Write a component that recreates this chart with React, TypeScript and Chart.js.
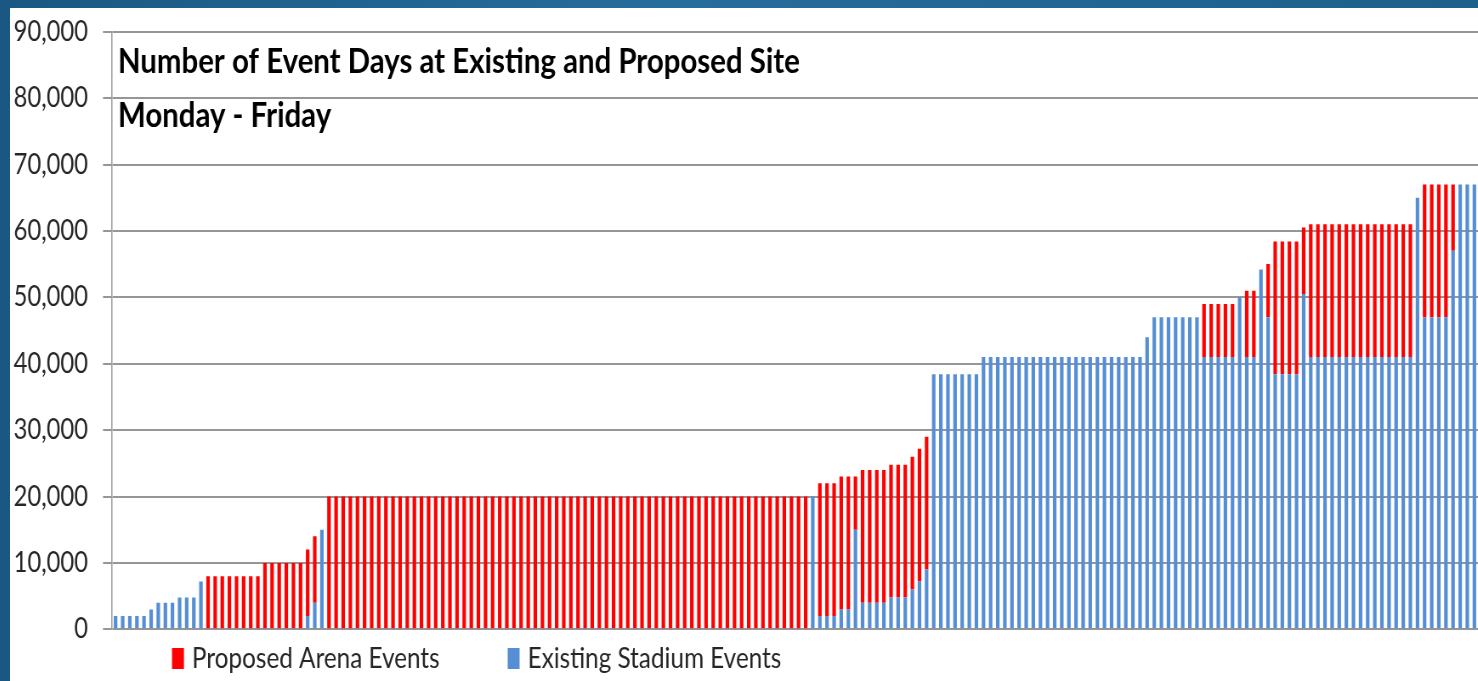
import React, { useEffect, useRef } from "react";
import { Chart, registerables } from "chart.js";

Chart.register(...registerables);

// ---- Data ----
const existingStadium: number[] = [
  2000, 2000, 2000, 2000, 2000, 3000, 4000, 4000, 4000, 4800, 4800, 4800, 7200,
  0, 0, 0, 0, 0, 0, 0, 0,
  0, 0, 0, 0, 0, 0,
  2000, 4000, 15000,
  0, 0, 0, 0, 0, 0, 0, 0, 0, 0, 0, 0, 0, 0, 0, 0, 0,
  0, 0, 0, 0, 0, 0, 0, 0, 0, 0, 0, 0, 0, 0, 0, 0, 0,
  0, 0, 0, 0, 0, 0, 0, 0, 0, 0, 0, 0, 0, 0, 0, 0, 0,
  0, 0, 0, 0, 0, 0, 0, 0, 0, 0, 0, 0, 0, 0, 0, 0, 0,
  20000,
  2000, 2000, 2000, 3000, 3000, 15000, 4000, 4000, 4000, 4000, 4800, 4800, 4800, 6000, 7200, 9000,
  38400, 38400, 38400, 38400, 38400, 38400, 38400,
  41000, 41000, 41000, 41000, 41000, 41000, 41000, 41000, 41000, 41000, 41000, 41000,
  41000, 41000, 41000, 41000, 41000, 41000, 41000, 41000, 41000, 41000, 41000,
  44000,
  47000, 47000, 47000, 47000, 47000, 47000, 47000,
  41000, 41000, 41000, 41000, 41000,
  50000,
  41000, 41000,
  54200,
  47000,
  38400, 38400, 38400, 38400,
  50500,
  41000, 41000, 41000, 41000, 41000, 41000, 41000, 41000, 41000, 41000, 41000, 41000, 41000, 41000, 41000,
  65000,
  47000, 47000, 47000, 47000,
  57000,
  67000, 67000, 67000,
];

const proposedArena: number[] = [
  0, 0, 0, 0, 0, 0, 0, 0, 0, 0, 0, 0, 0,
  8000, 8000, 8000, 8000, 8000, 8000, 8000, 8000,
  10000, 10000, 10000, 10000, 10000, 10000,
  10000, 10000, 0,
  20000, 20000, 20000, 20000, 20000, 20000, 20000, 20000, 20000, 20000, 20000, 20000, 20000, 20000, 20000, 20000, 20000,
  20000, 20000, 20000, 20000, 20000, 20000, 20000, 20000, 20000, 20000, 20000, 20000, 20000, 20000, 20000, 20000, 20000,
  20000, 20000, 20000, 20000, 20000, 20000, 20000, 20000, 20000, 20000, 20000, 20000, 20000, 20000, 20000, 20000, 20000,
  20000, 20000, 20000, 20000, 20000, 20000, 20000, 20000, 20000, 20000, 20000, 20000, 20000, 20000, 20000, 20000, 20000,
  0,
  20000, 20000, 20000, 20000, 20000, 8000, 20000, 20000, 20000, 20000, 20000, 20000, 20000, 20000, 20000, 20000,
  0, 0, 0, 0, 0, 0, 0,
  0, 0, 0, 0, 0, 0, 0, 0, 0, 0, 0, 0,
  0, 0, 0, 0, 0, 0, 0, 0, 0, 0, 0,
  0,
  0, 0, 0, 0, 0, 0, 0,
  8000, 8000, 8000, 8000, 8000,
  0,
  10000, 10000,
  0,
  8000,
  20000, 20000, 20000, 20000,
  10000,
  20000, 20000, 20000, 20000, 20000, 20000, 20000, 20000, 20000, 20000, 20000, 20000, 20000, 20000, 20000,
  0,
  20000, 20000, 20000, 20000,
  10000,
  0, 0, 0,
];

const categories: string[] = existingStadium.map((_, i) => `Day ${i + 1}`);

const seriesNames = ["Existing Stadium Events", "Proposed Arena Events"];
const titleLines = ["Number of Event Days at Existing and Proposed Site", "Monday - Friday"];
const yMin = 0;
const yMax = 90000;
const yStep = 10000;

// ---- Layout (the original picture is horizontally squeezed) ----
const SX = 0.85;
const INNER_W = 1468;
const INNER_H = 673;
const LOGICAL_W = Math.round(INNER_W / SX);

const FONT = "Lato, 'Open Sans', sans-serif";
const RED = "#ff0000";
const BLUE = "#558ed5";
const TEXT = "#262626";
const GRID = "#969696";

export default function App() {
  const ref = useRef<HTMLCanvasElement | null>(null);

  useEffect(() => {
    if (!ref.current) return;

    const overlay = {
      id: "titleAndLegend",
      afterDraw(chart: any) {
        const ctx = chart.ctx as CanvasRenderingContext2D;
        const area = chart.chartArea;
        ctx.save();
        ctx.textAlign = "left";
        ctx.textBaseline = "middle";
        ctx.fillStyle = "#000000";
        ctx.font = `bold 34.6px ${FONT}`;
        ctx.fillText(titleLines[0], area.left + 7, 54);
        ctx.fillText(titleLines[1], area.left + 7, 108);

        // legend (Proposed first, then Existing)
        ctx.font = `28.6px ${FONT}`;
        let x = 190.6;
        const y = 650;
        const order = [1, 0];
        for (const i of order) {
          const ds = chart.data.datasets[i];
          ctx.fillStyle = ds.backgroundColor as string;
          ctx.fillRect(x, y - 10, 14, 21);
          ctx.fillStyle = TEXT;
          ctx.fillText(ds.label, x + 23.5, y + 1);
          x += 23.5 + ctx.measureText(ds.label).width + 80;
        }
        ctx.restore();
      },
    };

    const chart = new Chart(ref.current, {
      type: "bar",
      data: {
        labels: categories,
        datasets: [
          {
            label: seriesNames[0],
            data: existingStadium,
            backgroundColor: BLUE,
            borderWidth: 0,
            barPercentage: 0.5,
            categoryPercentage: 1.0,
          },
          {
            label: seriesNames[1],
            data: proposedArena,
            backgroundColor: RED,
            borderWidth: 0,
            barPercentage: 0.5,
            categoryPercentage: 1.0,
          },
        ],
      },
      options: {
        animation: false,
        responsive: true,
        maintainAspectRatio: false,
        locale: "en-US",
        layout: { padding: { top: 23.7, bottom: 51.7, left: 0, right: 0 } },
        plugins: {
          legend: { display: false },
          tooltip: { enabled: false },
          title: { display: false },
        },
        scales: {
          x: {
            stacked: true,
            display: false,
          },
          y: {
            stacked: true,
            min: yMin,
            max: yMax,
            ticks: {
              stepSize: yStep,
              font: { family: FONT, size: 28, lineHeight: 0.2 },
              color: TEXT,
              padding: 17.6,
            },
            grid: {
              color: GRID,
              lineWidth: 2,
              tickLength: 10.6,
              tickColor: GRID,
            },
            border: { display: true, color: "#a0a0a0", width: 1.6 },
            afterFit: (s: any) => {
              s.width = 120;
            },
          },
        },
      },
      plugins: [overlay],
    });

    return () => chart.destroy();
  }, []);

  return (
    <div
      style={{
        position: "fixed",
        left: 0,
        top: 0,
        width: 1478,
        height: 681,
        overflow: "hidden",
        background: "linear-gradient(90deg, #1a5883 0%, #276d9b 45%, #1e5f8b 100%)",
      }}
    >
      <div
        style={{
          position: "absolute",
          left: 10,
          top: 8,
          width: INNER_W,
          height: INNER_H,
          background: "#ffffff",
          overflow: "hidden",
        }}
      >
        <div
          style={{
            position: "absolute",
            left: 0,
            top: 0,
            width: LOGICAL_W,
            height: INNER_H,
            transform: `scaleX(${SX})`,
            transformOrigin: "0 0",
          }}
        >
          <canvas ref={ref} />
        </div>
      </div>
    </div>
  );
}
